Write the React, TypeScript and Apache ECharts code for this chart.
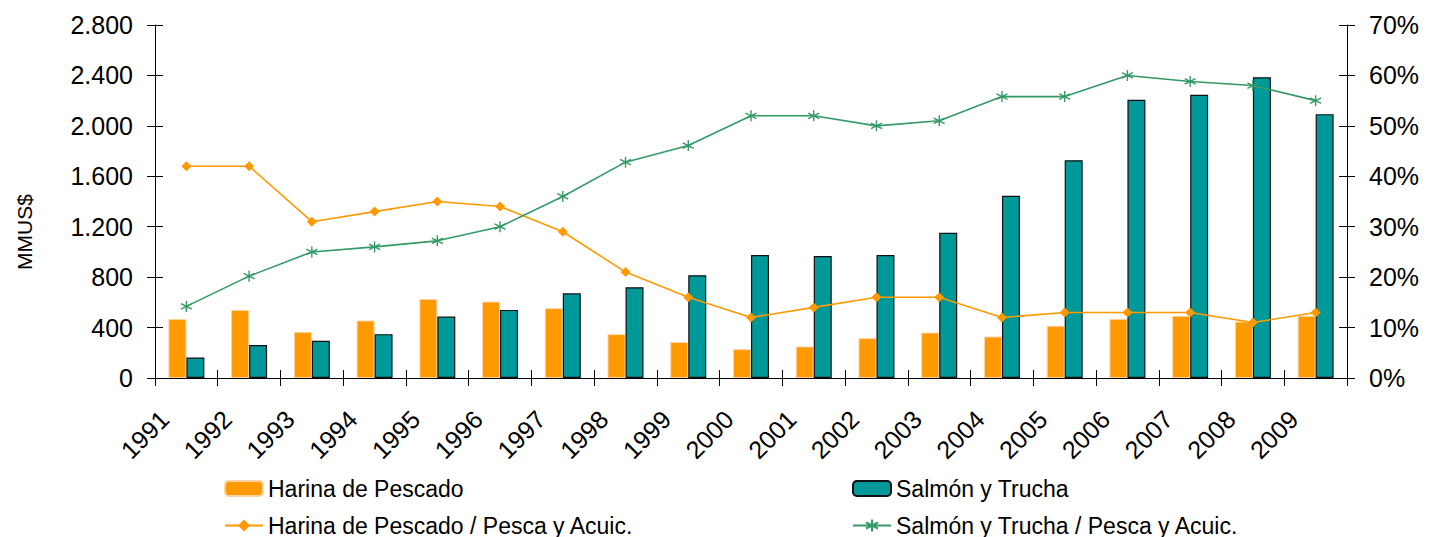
import React, { useEffect, useRef } from "react";
import * as echarts from "echarts";

const years = ["1991","1992","1993","1994","1995","1996","1997","1998","1999","2000","2001","2002","2003","2004","2005","2006","2007","2008","2009"];
const harina = [467, 540, 366, 456, 627, 606, 554, 348, 285, 229, 250, 316, 361, 329, 414, 469, 493, 448, 493];
const salmon = [163, 261, 295, 348, 487, 540, 672, 720, 815, 975, 968, 975, 1152, 1445, 1727, 2207, 2247, 2386, 2093];
const harinaPct = [42, 42, 31, 33, 35, 34, 29, 21, 16, 12, 14, 16, 16, 12, 13, 13, 13, 11, 13];
const salmonPct = [14.2, 20.2, 25, 26, 27.2, 30, 36, 42.8, 46.1, 52, 52, 50, 51, 55.8, 55.8, 60, 58.8, 58, 55];

const names = {
  hb: "Harina de Pescado",
  sb: "Salmón y Trucha",
  hl: "Harina de Pescado / Pesca y Acuic.",
  sl: "Salmón y Trucha / Pesca y Acuic.",
};
const leftAxisName = "MMUS$";

const FONT = "'Liberation Sans', Arial, sans-serif";
const ORANGE = "#FF9900";
const TEAL = "#009999";
const GREEN = "#339966";
const STAR = "path://M5,0L5,10M0.67,2.5L9.33,7.5M0.67,7.5L9.33,2.5";

const fmtLeft = (v: number) =>
  v >= 1000 ? Math.floor(v / 1000) + "." + String(v % 1000).padStart(3, "0") : String(v);

export default function App() {
  const ref = useRef<HTMLDivElement>(null);
  useEffect(() => {
    if (!ref.current) return;
    const chart = echarts.init(ref.current, null, { renderer: "svg" });
    const axisLine = { show: true, lineStyle: { color: "#000", width: 1 } };
    const tick = (inside: boolean) => ({ show: true, inside, length: 8, lineStyle: { color: "#000", width: 1 } });
    const legendBase = {
      padding: 0,
      itemWidth: 38,
      itemHeight: 15,
      textStyle: { fontFamily: FONT, fontSize: 23, color: "#000" },
    };
    chart.setOption({
      animation: false,
      backgroundColor: "#fff",
      textStyle: { fontFamily: FONT },
      grid: { left: 155, right: 84, top: 25, bottom: 159 },
      graphic: [
        {
          type: "text",
          x: 24,
          y: 232,
          rotation: Math.PI / 2,
          style: {
            text: leftAxisName,
            fontFamily: FONT,
            fontSize: 21,
            fill: "#000",
            align: "center",
            verticalAlign: "middle",
          },
        },
      ],
      legend: [
        { ...legendBase, data: [names.hb], left: 224, top: 477 },
        { ...legendBase, data: [names.sb], left: 852, top: 477 },
        { ...legendBase, data: [names.hl], left: 224, top: 514 },
        { ...legendBase, data: [names.sl], left: 852, top: 514 },
      ],
      xAxis: [
        {
          type: "category",
          data: years,
          position: "bottom",
          axisLine,
          axisTick: tick(false),
          axisLabel: {
            rotate: 45,
            fontSize: 25,
            color: "#000",
            margin: 15,
            padding: [0, 31, 0, 0],
            fontFamily: FONT,
          },
        },
        {
          type: "category",
          data: years,
          position: "bottom",
          axisLine: { show: false },
          axisTick: tick(true),
          axisLabel: { show: false },
        },
      ],
      yAxis: [
        {
          type: "value",
          position: "left",
          min: 0,
          max: 2800,
          interval: 400,
          axisLine,
          axisTick: tick(false),
          splitLine: { show: false },
          axisLabel: { fontSize: 25, color: "#000", margin: 22, fontFamily: FONT, formatter: fmtLeft },
        },
        {
          type: "value",
          position: "right",
          min: 0,
          max: 70,
          interval: 10,
          axisLine,
          axisTick: tick(false),
          splitLine: { show: false },
          axisLabel: { fontSize: 25, color: "#000", margin: 22, fontFamily: FONT, formatter: "{value}%" },
        },
        {
          type: "value",
          position: "left",
          min: 0,
          max: 2800,
          interval: 400,
          axisLine: { show: false },
          axisTick: tick(true),
          axisLabel: { show: false },
          splitLine: { show: false },
        },
        {
          type: "value",
          position: "right",
          min: 0,
          max: 70,
          interval: 10,
          axisLine: { show: false },
          axisTick: tick(true),
          axisLabel: { show: false },
          splitLine: { show: false },
        },
      ],
      series: [
        {
          name: names.hb,
          type: "bar",
          data: harina,
          barWidth: 18,
          barGap: "0%",
          itemStyle: { color: ORANGE, borderColor: "#FFD2A6", borderWidth: 1 },
        },
        {
          name: names.sb,
          type: "bar",
          data: salmon,
          barWidth: 18,
          barGap: "0%",
          itemStyle: { color: TEAL, borderColor: "#111", borderWidth: 1.2 },
        },
        {
          name: names.hl,
          type: "line",
          yAxisIndex: 1,
          data: harinaPct,
          symbol: "diamond",
          symbolSize: 10,
          lineStyle: { color: ORANGE, width: 1.6 },
          itemStyle: { color: ORANGE },
        },
        {
          name: names.sl,
          type: "line",
          yAxisIndex: 1,
          data: salmonPct,
          symbol: STAR,
          symbolSize: 11,
          lineStyle: { color: GREEN, width: 1.6 },
          itemStyle: { color: GREEN, borderColor: GREEN, borderWidth: 1.4 },
        },
      ],
    });
    return () => chart.dispose();
  }, []);
  return (
    <div
      ref={ref}
      style={{ position: "fixed", left: 0, top: 0, width: 1431, height: 537, background: "#fff" }}
    />
  );
}
